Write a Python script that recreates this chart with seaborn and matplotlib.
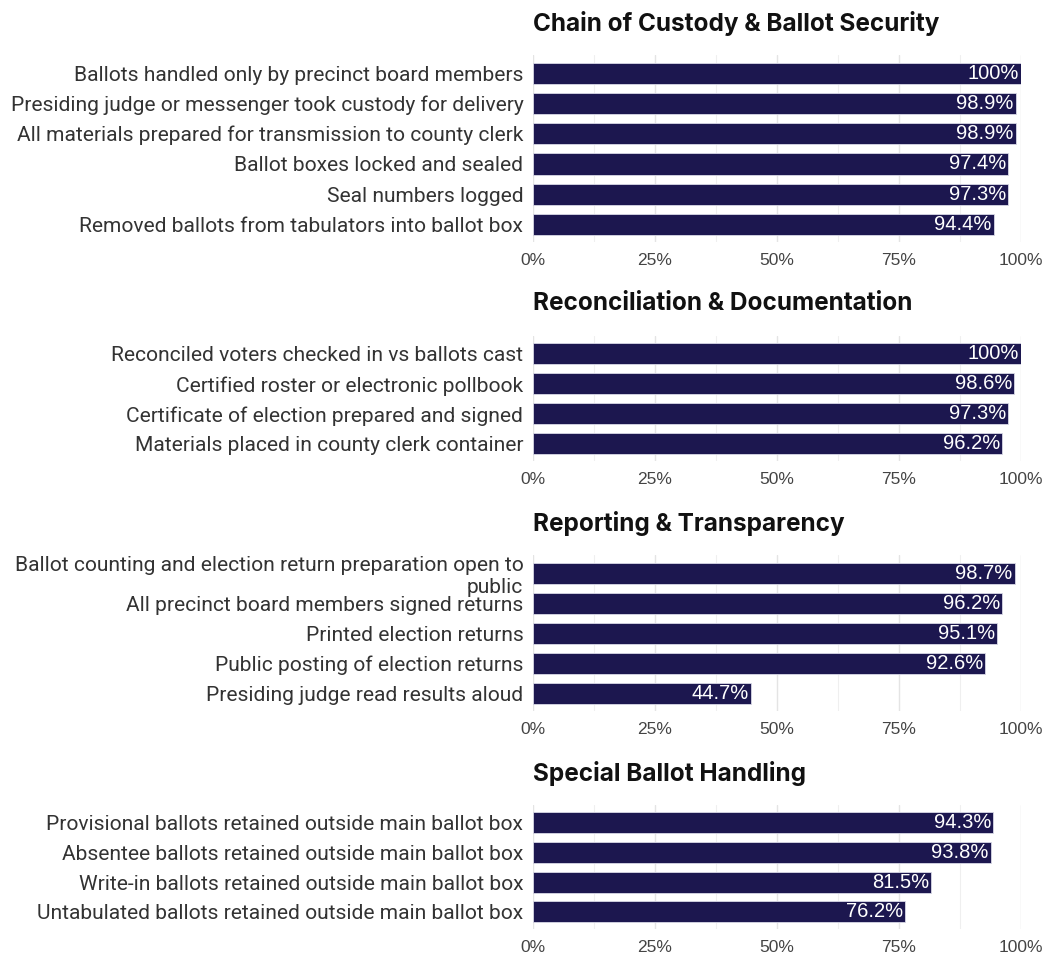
import matplotlib
matplotlib.use("Agg")
import matplotlib.pyplot as plt
import seaborn as sns
import pandas as pd

custody_labels = ['Ballots handled only by precinct board members',
                  'Presiding judge or messenger took custody for delivery',
                  'All materials prepared for transmission to county clerk',
                  'Ballot boxes locked and sealed',
                  'Seal numbers logged',
                  'Removed ballots from tabulators into ballot box']
custody_values = [100, 98.9, 98.9, 97.4, 97.3, 94.4]

recon_labels = ['Reconciled voters checked in vs ballots cast',
                'Certified roster or electronic pollbook',
                'Certificate of election prepared and signed',
                'Materials placed in county clerk container']
recon_values = [100, 98.6, 97.3, 96.2]

report_labels = ['Ballot counting and election return preparation open to\npublic',
                 'All precinct board members signed returns',
                 'Printed election returns',
                 'Public posting of election returns',
                 'Presiding judge read results aloud']
report_values = [98.7, 96.2, 95.1, 92.6, 44.7]

special_labels = ['Provisional ballots retained outside main ballot box',
                  'Absentee ballots retained outside main ballot box',
                  'Write-in ballots retained outside main ballot box',
                  'Untabulated ballots retained outside main ballot box']
special_values = [94.3, 93.8, 81.5, 76.2]

titles = ['Chain of Custody & Ballot Security', 'Reconciliation & Documentation',
          'Reporting & Transparency', 'Special Ballot Handling']
tick_values = [0, 25, 50, 75, 100]
tick_labels = ['0%', '25%', '50%', '75%', '100%']

sns.set_theme(style="white")
plt.rcParams['font.family'] = ['Roboto', 'DejaVu Sans']

bar_color = '#1c174f'
W, H = 1051, 956
fig = plt.figure(figsize=(W / 100, H / 100), dpi=100)

# pixel top / bottom of each panel
panels = [
    (custody_labels, custody_values, 55, 242),
    (recon_labels, recon_values, 336, 461),
    (report_labels, report_values, 555, 711),
    (special_labels, special_values, 805, 929),
]
x0, x1 = 533, 1021

for (labels, values, top, bottom), title in zip(panels, titles):
    ax = fig.add_axes([x0 / W, 1 - bottom / H, (x1 - x0) / W, (bottom - top) / H])
    df = pd.DataFrame({'label': labels, 'value': values})
    sns.barplot(data=df, y='label', x='value', color=bar_color, orient='h',
                width=0.7, edgecolor='#d8d8e6', linewidth=0.6, ax=ax, saturation=1)
    n = len(labels)
    ax.set_ylim(n - 0.5 + 0.08, -0.6)
    ax.set_xlim(0, 100)
    ax.set_xticks(tick_values)
    ax.set_xticklabels(tick_labels, fontsize=12.5, color='#444444',
                       family=['Liberation Sans', 'DejaVu Sans'])
    ax.set_xticks([12.5, 37.5, 62.5, 87.5], minor=True)
    ax.grid(axis='x', which='major', color='#e4e4e4', linewidth=1)
    ax.grid(axis='x', which='minor', color='#efefef', linewidth=0.8)
    ax.grid(axis='y', visible=False)
    ax.set_axisbelow(True)
    ax.tick_params(axis='x', length=0, pad=8)
    ax.tick_params(axis='y', length=0, pad=7, labelsize=15.1, labelcolor='#333333')
    ax.set_xlabel('')
    ax.set_ylabel('')
    for s in ax.spines.values():
        s.set_visible(False)
    for i, v in enumerate(values):
        txt = '100%' if v == 100 else f'{v:.1f}%'
        ax.text(v - 0.4, i, txt, ha='right', va='center', color='white',
                fontsize=14.5, family=['Liberation Sans', 'DejaVu Sans'])
    ax.text(0, 1 + 32 / (bottom - top), title, transform=ax.transAxes,
            ha='left', va='center', fontsize=17.5, fontweight='bold', color='#111111',
            family=['Inter', 'DejaVu Sans'])

fig.savefig('out.png', dpi=100)
